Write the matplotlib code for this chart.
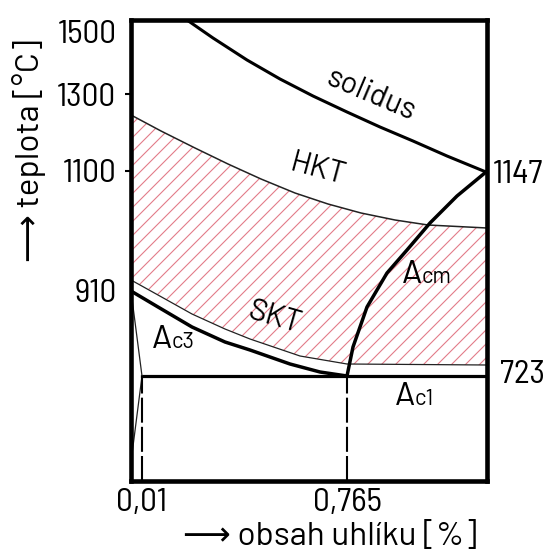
import numpy as np
import matplotlib.pyplot as plt
from matplotlib import font_manager as fm
from matplotlib.patches import Polygon

have = {f.name for f in fm.fontManager.ttflist}
num_font = next((n for n in ['Barlow Semi Condensed', 'Roboto Condensed',
                             'Liberation Sans Narrow', 'Archivo Narrow']
                 if n in have), 'DejaVu Sans')
word_font = next((n for n in ['Barlow', 'Roboto', 'Lato'] if n in have), 'DejaVu Sans')
plt.rcParams['font.family'] = [word_font, 'DejaVu Sans']
NUM = [num_font, 'DejaVu Sans']

# schematic diagram units: x = carbon content axis, y = temperature axis
solidus_x = [56, 82, 116, 149, 182, 216, 249, 282, 316, 355]
solidus_y = [461, 443, 421, 402, 385, 369, 354, 340, 325, 309]

hkt_x = [0, 30, 64, 97, 130, 164, 197, 230, 264, 297, 356]
hkt_y = [366, 350, 333, 317, 302, 288, 277, 268, 261, 256, 253]

skt_x = [0, 27, 61, 94, 119, 169, 216, 356]
skt_y = [201, 186, 167, 152, 142, 125, 117, 116]

ac3_x = [0, 27, 61, 94, 119, 159, 189, 216]
ac3_y = [190, 174, 154, 139, 131, 117, 109, 105]

acm_x = [216, 222, 236, 256, 276, 299, 326, 355]
acm_y = [105, 134, 174, 208, 231, 258, 285, 309]

ac1_x = [11, 356]
ac1_y = [105, 105]

ferrite_x = [0, 11, 0]
ferrite_y = [190, 105, 19]

x_ticks = [11, 216]
x_labels = ['0,01', '0,765']
y_ticks = [461, 387, 310, 190]
y_labels = ['1500', '1300', '1100', '910']
right_labels = ['1147', '723']
right_pos = [(362, 306), (369, 106)]

hatch_col = '#e27c89'

fig = plt.figure(figsize=(5.54, 5.51), dpi=100)
ax = fig.add_axes([131 / 554, 70 / 551, 356 / 554, 461 / 551])
ax.set_xlim(0, 356)
ax.set_ylim(0, 461)

# hatched band between HKT and SKT
band = Polygon(np.column_stack([hkt_x + skt_x[::-1], hkt_y + skt_y[::-1]]),
               closed=True, facecolor='none', edgecolor='none')
ax.add_patch(band)
for c in np.arange(-400, 500, 14):
    ln = ax.axline((0, c), slope=1, color=hatch_col, lw=0.8)
    ln.set_clip_path(band)

ax.plot(solidus_x, solidus_y, color='black', lw=2.2)
ax.plot(hkt_x, hkt_y, color='#222222', lw=1.1)
ax.plot(skt_x, skt_y, color='#222222', lw=0.9)
ax.plot(ac3_x, ac3_y, color='black', lw=2.5)
ax.plot(acm_x, acm_y, color='black', lw=2.5)
ax.plot(ac1_x, ac1_y, color='black', lw=2.3)
ax.plot(ferrite_x, ferrite_y, color='#222222', lw=0.9)
for xv in x_ticks:
    ax.plot([xv, xv], [0, ac1_y[0]], color='black', lw=1.5, ls=(0, (12, 2)))

for s in ax.spines.values():
    s.set_linewidth(3.3)

ax.set_yticks(y_ticks, y_labels, fontsize=24, family=NUM)
ax.tick_params(axis='y', direction='out', length=4.5, width=1.5, pad=6)
ax.get_yticklabels()[0].set_va('top')
for i in (0, 3):
    ax.yaxis.get_major_ticks()[i].tick1line.set_visible(False)

ax.set_xticks(x_ticks, x_labels, fontsize=24, family=NUM)
ax.tick_params(axis='x', length=0, pad=5)

for lab, (xv, yv) in zip(right_labels, right_pos):
    ax.text(xv, yv, lab, fontsize=24, family=NUM, ha='left', va='center',
            clip_on=False)

ax.text(240, 386, 'solidus', fontsize=22, rotation=-23, ha='center', va='center')
ax.text(186, 311, 'HKT', fontsize=22, rotation=-15, ha='center', va='center')
ax.text(144, 163, 'SKT', fontsize=22, rotation=-16, ha='center', va='center')

for xa, ya, sub, dx in [(21, 133, 'c3', 14), (271, 198, 'cm', 14), (264, 76, 'c1', 14)]:
    ax.text(xa, ya, 'A', fontsize=24, ha='left', va='baseline')
    ax.annotate(sub, xy=(xa, ya), xytext=(dx, 0), textcoords='offset points',
                fontsize=16, ha='left', va='baseline')

fig.text(29 / 554, 1 - 151 / 551, '⟶ teplota [°C]', rotation=90, fontsize=24,
         ha='center', va='center')
fig.text(330 / 554, 1 - 537 / 551, '⟶ obsah uhlíku [%]', fontsize=24,
         ha='center', va='center')

fig.savefig('out.png', dpi=100)
